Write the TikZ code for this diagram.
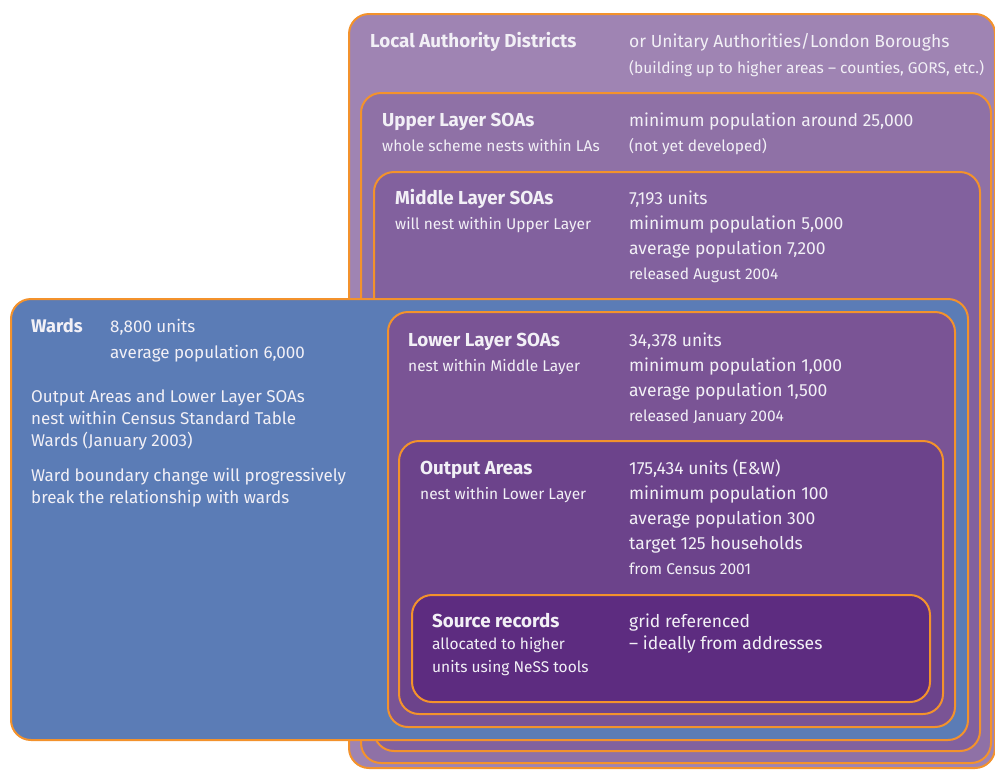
\documentclass[tikz,border=0pt]{standalone}
\usepackage{fontspec}
\setmainfont{Fira Sans}
\usepackage{xcolor}
\usetikzlibrary{positioning}

\definecolor{edge}{RGB}{243,146,44}
\definecolor{ink}{RGB}{242,240,246}
\definecolor{ladfill}{RGB}{159,132,179}
\definecolor{upperfill}{RGB}{143,113,166}
\definecolor{middlefill}{RGB}{130,97,158}
\definecolor{wardsfill}{RGB}{91,124,182}
\definecolor{lowerfill}{RGB}{122,84,149}
\definecolor{outputfill}{RGB}{108,67,139}
\definecolor{sourcefill}{RGB}{93,44,128}

\newcommand{\smtxt}{\fontsize{15.5}{25}\selectfont}
\newcommand{\bftxt}{\fontsize{18.8}{25}\selectfont\bfseries}
% lines stacked from the first baseline down
\newcommand{\rows}[1]{\begin{tabular}[t]{@{}l@{}}#1\end{tabular}}

\begin{document}
\begin{tikzpicture}[
  x=1pt,y=1pt,
  layer/.style={draw=edge,line width=2pt,rounded corners=20pt,anchor=north west,inner sep=0pt},
  info/.style={anchor=base west,inner sep=0pt,text=ink,font=\fontsize{17.5}{25}\selectfont},
  wardtxt/.style={anchor=base west,inner sep=0pt,text=ink,font=\fontsize{17}{22}\selectfont}
]
\useasboundingbox (0,0) rectangle (995,-769);

% nested boxes, outermost first
\node[layer,fill=ladfill,minimum width=646pt,minimum height=754pt] (lad) at (348,-13) {};
\node[layer,fill=upperfill,minimum width=630pt,minimum height=670pt] (upper) at (360,-92) {};
\node[layer,fill=middlefill,minimum width=606pt,minimum height=579pt] (middle) at (373,-171) {};
\node[layer,fill=wardsfill,minimum width=957pt,minimum height=441pt] (wards) at (10,-298) {};
\node[layer,fill=lowerfill,minimum width=567pt,minimum height=415pt] (lower) at (387,-311) {};
\node[layer,fill=outputfill,minimum width=544pt,minimum height=273pt] (output) at (398,-440) {};
\node[layer,fill=sourcefill,minimum width=518pt,minimum height=107pt] (source) at (411,-594) {};

\coordinate (col) at (629,0);

% Local Authority Districts
\node[info] (ladname) at ([shift={(22,-34)}]lad.north west) {\bftxt Local Authority Districts};
\node[info] (ladinfo) at (ladname.base -| col) {\rows{or Unitary Authorities/London Boroughs\\[1pt]
  {\smtxt (building up to higher areas -- counties, GORS, etc.)}}};

% Upper Layer SOAs
\node[info] (uppername) at ([shift={(22,-34)}]upper.north west) {\rows{{\bftxt Upper Layer SOAs}\\{\smtxt whole scheme nests within LAs}}};
\node[info] (upperinfo) at (uppername.base -| col) {\rows{minimum population around 25,000\\{\smtxt (not yet developed)}}};

% Middle Layer SOAs
\node[info] (middlename) at ([shift={(22,-33)}]middle.north west) {\rows{{\bftxt Middle Layer SOAs}\\{\smtxt will nest within Upper Layer}}};
\node[info] (middleinfo) at (middlename.base -| col) {\rows{7,193 units\\minimum population 5,000\\average population 7,200\\{\smtxt released August 2004}}};

% Wards
\node[wardtxt] (wardsname) at ([shift={(21,-34)}]wards.north west) {\fontsize{18.3}{22}\selectfont\bfseries Wards};
\node[wardtxt] (wardsinfo) at ([xshift=79pt]wardsname.base west) {\rows{8,800 units\\[4pt]average population 6,000}};
\node[wardtxt] (wardsnest) at ([shift={(21,-104)}]wards.north west) {\rows{Output Areas and Lower Layer SOAs\\nest within Census Standard Table\\Wards (January 2003)}};
\node[wardtxt] (wardschange) at ([shift={(21,-183)}]wards.north west) {\rows{Ward boundary change will progressively\\break the relationship with wards}};

% Lower Layer SOAs
\node[info] (lowername) at ([shift={(21,-35)}]lower.north west) {\rows{{\bftxt Lower Layer SOAs}\\{\smtxt nest within Middle Layer}}};
\node[info] (lowerinfo) at (lowername.base -| col) {\rows{34,378 units\\minimum population 1,000\\average population 1,500\\{\smtxt released January 2004}}};

% Output Areas
\node[info] (outputname) at ([shift={(22,-34)}]output.north west) {\rows{{\bftxt Output Areas}\\{\smtxt nest within Lower Layer}}};
\node[info] (outputinfo) at (outputname.base -| col) {\rows{175,434 units (E\&W)\\minimum population 100\\average population 300\\target 125 households\\{\smtxt from Census 2001}}};

% Source records
\node[info,font=\fontsize{17.5}{22.5}\selectfont] (sourcename) at ([shift={(21,-33)}]source.north west) {\rows{{\bftxt Source records}\\{\smtxt allocated to higher}\\{\smtxt units using NeSS tools}}};
\node[info,font=\fontsize{17.5}{22.5}\selectfont] (sourceinfo) at (sourcename.base -| col) {\rows{grid referenced\\-- ideally from addresses}};

\end{tikzpicture}
\end{document}
